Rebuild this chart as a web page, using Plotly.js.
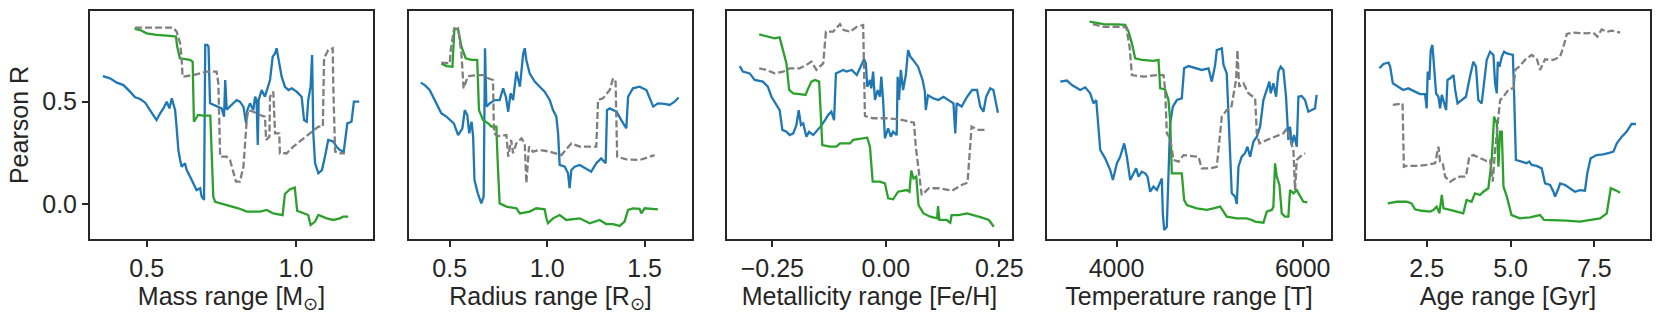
<!DOCTYPE html>
<html>
<head>
<meta charset="utf-8">
<script src="https://cdn.plot.ly/plotly-3.0.1.min.js"></script>
<style>
  html, body { margin: 0; padding: 0; background: #fff; }
  #chart { width: 1660px; height: 320px; }
</style>
</head>
<body>
<div id="chart"></div>
<script>
'use strict'

// ---- mass panel ----
var massBlueX = [0.353,0.377,0.400,0.422,0.444,0.461,0.478,0.495,0.511,0.522,0.533,0.545,0.556,0.567,0.576,0.584,0.595,0.600,0.606,0.612,0.617,0.628,0.634,0.645,0.656,0.667,0.679,0.684,0.692,0.696,0.703,0.707,0.712,0.734,0.751,0.759,0.763,0.768,0.779,0.790,0.801,0.812,0.824,0.833,0.837,0.846,0.857,0.863,0.868,0.872,0.875,0.885,0.896,0.913,0.922,0.930,0.935,0.942,0.952,0.963,0.975,0.986,1.002,1.019,1.027,1.036,1.041,1.049,1.054,1.058,1.064,1.075,1.087,1.097,1.108,1.125,1.136,1.147,1.160,1.172,1.186,1.194,1.212];
var massBlueY = [0.625,0.614,0.593,0.581,0.549,0.521,0.513,0.495,0.459,0.435,0.410,0.443,0.467,0.500,0.467,0.516,0.459,0.378,0.264,0.215,0.182,0.199,0.166,0.134,0.101,0.068,0.077,0.036,0.020,0.777,0.777,0.769,0.492,0.476,0.467,0.427,0.606,0.461,0.476,0.492,0.508,0.500,0.476,0.394,0.459,0.492,0.459,0.524,0.508,0.288,0.508,0.557,0.524,0.606,0.720,0.736,0.761,0.704,0.622,0.573,0.557,0.565,0.549,0.524,0.410,0.402,0.508,0.573,0.728,0.345,0.199,0.150,0.166,0.231,0.313,0.305,0.280,0.264,0.256,0.394,0.402,0.500,0.500];
var massGreenX = [0.459,0.478,0.500,0.533,0.578,0.598,0.602,0.611,0.645,0.654,0.658,0.672,0.689,0.713,0.723,0.729,0.768,0.807,0.835,0.880,0.902,0.924,0.955,0.963,0.980,0.996,1.004,1.024,1.041,1.049,1.064,1.075,1.103,1.125,1.147,1.158,1.175];
var massGreenY = [0.857,0.850,0.834,0.826,0.821,0.818,0.769,0.712,0.704,0.695,0.402,0.435,0.432,0.432,0.036,0.011,-0.005,-0.021,-0.037,-0.037,-0.029,-0.046,-0.054,0.049,0.072,0.080,-0.033,-0.046,-0.054,-0.103,-0.086,-0.054,-0.070,-0.078,-0.070,-0.062,-0.062];
var massGrayX = [0.461,0.511,0.589,0.600,0.612,0.617,0.620,0.656,0.701,0.734,0.740,0.746,0.768,0.779,0.790,0.799,0.812,0.824,0.835,0.840,0.857,0.879,0.896,0.900,0.911,0.913,0.924,0.930,0.944,0.946,0.969,0.991,1.019,1.047,1.075,1.090,1.094,1.108,1.123,1.125,1.131,1.147,1.164];
var massGrayY = [0.862,0.863,0.862,0.842,0.785,0.712,0.622,0.630,0.647,0.647,0.590,0.231,0.231,0.215,0.150,0.109,0.109,0.182,0.410,0.459,0.451,0.435,0.427,0.313,0.329,0.524,0.549,0.345,0.345,0.248,0.248,0.280,0.313,0.345,0.378,0.378,0.712,0.752,0.761,0.573,0.256,0.248,0.248];

// ---- radius panel ----
var radBlueX = [0.351,0.372,0.397,0.415,0.440,0.457,0.483,0.500,0.521,0.543,0.565,0.577,0.590,0.600,0.606,0.612,0.620,0.627,0.644,0.662,0.674,0.681,0.688,0.705,0.731,0.756,0.774,0.788,0.800,0.812,0.825,0.842,0.860,0.877,0.885,0.893,0.910,0.936,0.962,0.987,1.013,1.030,1.047,1.056,1.064,1.090,1.107,1.115,1.124,1.141,1.167,1.201,1.226,1.252,1.277,1.300,1.307,1.321,1.356,1.380,1.406,1.415,1.440,1.474,1.509,1.544,1.568,1.603,1.628,1.654,1.674];
var radBlueY = [0.593,0.581,0.557,0.524,0.476,0.443,0.427,0.410,0.394,0.337,0.370,0.459,0.435,0.345,0.378,0.402,0.329,0.117,0.052,0.003,0.036,0.761,0.476,0.492,0.508,0.508,0.565,0.524,0.451,0.541,0.508,0.647,0.573,0.736,0.761,0.704,0.638,0.598,0.573,0.549,0.508,0.459,0.427,0.345,0.191,0.182,0.150,0.077,0.166,0.182,0.191,0.174,0.158,0.199,0.223,0.199,0.459,0.467,0.451,0.410,0.370,0.524,0.565,0.573,0.557,0.476,0.492,0.489,0.484,0.500,0.520];
var radGreenX = [0.457,0.483,0.514,0.524,0.543,0.560,0.582,0.611,0.641,0.650,0.671,0.697,0.714,0.739,0.747,0.756,0.791,0.842,0.860,0.910,0.944,0.987,0.996,1.004,1.030,1.064,1.098,1.167,1.218,1.269,1.303,1.338,1.372,1.397,1.415,1.440,1.474,1.483,1.500,1.568];
var radGreenY = [0.687,0.674,0.671,0.858,0.853,0.769,0.712,0.704,0.704,0.459,0.410,0.394,0.378,0.378,0.182,0.003,-0.013,-0.021,-0.046,-0.037,-0.021,-0.026,-0.070,-0.094,-0.070,-0.054,-0.078,-0.070,-0.094,-0.078,-0.098,-0.098,-0.107,-0.086,-0.029,-0.021,-0.024,-0.046,-0.021,-0.026];
var radGrayX = [0.457,0.500,0.505,0.521,0.543,0.560,0.571,0.594,0.632,0.679,0.697,0.722,0.727,0.748,0.791,0.800,0.815,0.825,0.842,0.868,0.885,0.893,0.907,0.927,0.962,1.013,1.073,1.124,1.167,1.252,1.261,1.286,1.321,1.338,1.351,1.359,1.406,1.474,1.551];
var radGrayY = [0.691,0.687,0.752,0.850,0.858,0.736,0.565,0.625,0.629,0.630,0.614,0.606,0.345,0.332,0.337,0.231,0.313,0.248,0.296,0.321,0.296,0.101,0.280,0.256,0.264,0.256,0.239,0.296,0.280,0.280,0.508,0.516,0.557,0.614,0.598,0.231,0.218,0.215,0.239];

// ---- metallicity panel ----
var metBlueX = [-0.322,-0.315,-0.300,-0.289,-0.271,-0.260,-0.252,-0.241,-0.234,-0.228,-0.219,-0.212,-0.204,-0.197,-0.192,-0.187,-0.182,-0.175,-0.169,-0.160,-0.153,-0.144,-0.134,-0.127,-0.120,-0.114,-0.110,-0.101,-0.094,-0.087,-0.075,-0.064,-0.056,-0.048,-0.044,-0.041,-0.035,-0.032,-0.028,-0.024,-0.018,-0.013,-0.010,-0.006,-0.002,0.005,0.011,0.016,0.024,0.026,0.029,0.033,0.038,0.044,0.049,0.054,0.060,0.071,0.081,0.086,0.088,0.093,0.105,0.116,0.127,0.138,0.149,0.153,0.156,0.167,0.179,0.190,0.201,0.208,0.215,0.221,0.230,0.237,0.247];
var metBlueY = [0.674,0.647,0.638,0.606,0.598,0.573,0.524,0.484,0.459,0.362,0.353,0.337,0.345,0.386,0.459,0.386,0.394,0.329,0.353,0.337,0.353,0.378,0.410,0.435,0.451,0.410,0.638,0.647,0.655,0.647,0.655,0.630,0.671,0.707,0.687,0.573,0.606,0.565,0.647,0.508,0.557,0.524,0.622,0.508,0.321,0.370,0.329,0.353,0.337,0.622,0.508,0.655,0.557,0.630,0.752,0.720,0.704,0.671,0.606,0.549,0.459,0.531,0.516,0.508,0.524,0.508,0.492,0.345,0.492,0.476,0.524,0.557,0.557,0.476,0.451,0.524,0.565,0.557,0.446];
var metGreenX = [-0.279,-0.263,-0.245,-0.234,-0.226,-0.219,-0.213,-0.204,-0.190,-0.177,-0.171,-0.164,-0.156,-0.147,-0.142,-0.140,-0.123,-0.109,-0.101,-0.079,-0.072,-0.050,-0.041,-0.035,-0.029,-0.013,-0.002,0.005,0.016,0.027,0.046,0.052,0.056,0.061,0.067,0.072,0.083,0.098,0.113,0.115,0.118,0.134,0.142,0.145,0.160,0.179,0.193,0.212,0.227,0.238];
var metGreenY = [0.829,0.821,0.809,0.814,0.752,0.687,0.557,0.541,0.537,0.533,0.565,0.598,0.606,0.598,0.378,0.288,0.280,0.280,0.296,0.296,0.313,0.321,0.324,0.280,0.109,0.109,0.101,0.028,0.023,0.060,0.068,0.060,0.163,0.125,0.134,-0.005,-0.046,-0.062,-0.070,-0.010,-0.078,-0.078,-0.091,-0.054,-0.054,-0.046,-0.054,-0.067,-0.078,-0.111];
var metGrayX = [-0.279,-0.263,-0.245,-0.226,-0.212,-0.190,-0.175,-0.164,-0.153,-0.138,-0.132,-0.116,-0.101,-0.093,-0.079,-0.064,-0.050,-0.046,-0.028,0.001,0.029,0.062,0.066,0.073,0.079,0.095,0.117,0.146,0.167,0.180,0.189,0.204,0.222];
var metGrayY = [0.663,0.655,0.638,0.647,0.663,0.663,0.679,0.696,0.655,0.687,0.842,0.842,0.879,0.850,0.842,0.866,0.875,0.430,0.419,0.419,0.414,0.397,0.280,0.150,0.044,0.077,0.077,0.065,0.093,0.104,0.378,0.362,0.362];

// ---- temperature panel ----
var tempBlueX = [3395,3467,3521,3610,3664,3717,3753,3782,3825,3878,3932,3961,4004,4039,4082,4111,4147,4182,4211,4236,4272,4308,4333,4361,4397,4433,4469,4487,4497,4512,4540,4558,4576,4605,4648,4701,4726,4773,4844,4916,4988,5023,5059,5077,5131,5149,5184,5213,5238,5274,5292,5310,5345,5381,5406,5435,5471,5507,5542,5578,5614,5642,5657,5685,5714,5739,5764,5793,5821,5846,5864,5882,5907,5936,5954,5989,6025,6061,6097,6132,6150];
var tempBlueY = [0.598,0.603,0.581,0.557,0.570,0.541,0.492,0.508,0.264,0.223,0.166,0.117,0.199,0.231,0.296,0.231,0.117,0.150,0.174,0.134,0.158,0.150,0.134,0.060,0.085,0.068,0.101,0.125,-0.046,-0.127,-0.111,0.101,0.394,0.476,0.508,0.516,0.663,0.674,0.663,0.655,0.663,0.598,0.679,0.752,0.761,0.679,0.638,0.329,0.052,0.036,0.000,0.182,0.231,0.248,0.280,0.231,0.305,0.329,0.378,0.508,0.557,0.598,0.541,0.590,0.524,0.647,0.671,0.655,0.524,0.313,0.378,0.288,0.337,0.280,0.524,0.528,0.508,0.451,0.459,0.467,0.533];
var tempGreenX = [3710,3789,3861,4004,4093,4129,4165,4200,4272,4397,4451,4469,4522,4558,4576,4594,4701,4726,4755,4862,4970,5041,5113,5149,5184,5292,5399,5453,5489,5578,5614,5668,5685,5703,5721,5750,5775,5810,5846,5864,5900,5936,5971,6007,6050];
var tempGreenY = [0.891,0.886,0.879,0.878,0.875,0.842,0.785,0.712,0.704,0.699,0.704,0.565,0.560,0.508,0.410,0.150,0.150,0.020,-0.005,-0.021,-0.029,-0.021,-0.013,-0.037,-0.062,-0.070,-0.070,-0.078,-0.086,-0.091,-0.037,-0.029,-0.013,0.199,0.134,0.093,-0.046,-0.062,-0.062,0.068,0.052,0.068,0.036,0.011,0.008];
var tempGrayX = [3746,3861,4004,4104,4140,4165,4290,4433,4505,4522,4540,4576,4612,4666,4719,4880,4916,5005,5077,5131,5184,5231,5284,5299,5317,5363,5417,5489,5507,5535,5614,5703,5793,5829,5900,5918,5936,5971,6025];
var tempGrayY = [0.879,0.866,0.866,0.863,0.769,0.630,0.622,0.630,0.630,0.557,0.345,0.321,0.215,0.207,0.239,0.231,0.174,0.174,0.182,0.427,0.459,0.467,0.606,0.752,0.573,0.590,0.541,0.516,0.345,0.296,0.313,0.329,0.345,0.370,0.264,0.068,0.215,0.231,0.248];

// ---- age panel ----
var ageBlueX = [1.09,1.21,1.36,1.41,1.49,1.66,1.80,1.95,2.15,2.30,2.45,2.50,2.53,2.58,2.62,2.67,2.72,2.78,2.85,2.90,2.95,3.00,3.08,3.12,3.20,3.30,3.35,3.42,3.54,3.67,3.79,3.89,3.97,4.04,4.14,4.21,4.29,4.39,4.49,4.54,4.59,4.62,4.67,4.74,4.81,4.89,4.99,5.07,5.11,5.16,5.33,5.48,5.56,5.63,5.78,5.93,6.03,6.18,6.28,6.33,6.43,6.48,6.63,6.77,6.92,7.07,7.22,7.29,7.39,7.57,7.77,7.97,8.07,8.17,8.32,8.46,8.61,8.74];
var ageBlueY = [0.663,0.684,0.691,0.671,0.590,0.573,0.557,0.565,0.549,0.537,0.537,0.467,0.647,0.606,0.752,0.777,0.671,0.541,0.524,0.467,0.533,0.500,0.459,0.606,0.614,0.630,0.557,0.492,0.508,0.524,0.622,0.695,0.671,0.508,0.492,0.606,0.704,0.744,0.728,0.590,0.541,0.695,0.671,0.720,0.744,0.736,0.731,0.728,0.524,0.215,0.207,0.199,0.207,0.191,0.186,0.174,0.101,0.093,0.060,0.036,0.077,0.101,0.093,0.077,0.060,0.068,0.065,0.150,0.223,0.239,0.243,0.251,0.256,0.296,0.329,0.353,0.391,0.391];
var ageGreenX = [1.34,1.61,1.90,2.05,2.15,2.35,2.60,2.70,2.80,2.88,2.95,3.00,3.20,3.39,3.59,3.69,3.84,3.94,4.09,4.19,4.34,4.44,4.51,4.59,4.64,4.69,4.74,4.79,4.89,5.03,5.28,5.58,5.88,6.00,6.28,6.67,7.07,7.37,7.67,7.87,7.99,8.12,8.27];
var ageGreenY = [0.003,0.011,0.011,0.003,-0.026,-0.033,-0.037,-0.029,-0.013,-0.046,0.044,-0.021,-0.029,-0.037,-0.046,0.020,0.011,0.052,0.044,0.060,0.077,0.215,0.427,0.394,0.182,0.353,0.353,0.085,0.036,-0.054,-0.070,-0.065,-0.054,-0.078,-0.078,-0.081,-0.086,-0.078,-0.070,-0.046,0.077,0.068,0.055];
var ageGrayX = [1.49,1.71,1.78,1.82,1.90,2.20,2.50,2.75,2.85,2.90,2.98,3.05,3.20,3.35,3.49,3.67,3.77,3.89,4.14,4.29,4.39,4.47,4.54,4.61,4.69,4.79,4.94,5.09,5.14,5.28,5.43,5.63,5.78,5.88,6.03,6.28,6.48,6.58,6.68,6.87,7.27,7.47,7.59,7.72,7.87,8.02,8.27];
var ageGrayY = [0.484,0.489,0.492,0.182,0.186,0.186,0.191,0.199,0.280,0.207,0.199,0.134,0.109,0.125,0.134,0.134,0.231,0.239,0.223,0.210,0.215,0.109,0.264,0.378,0.508,0.524,0.560,0.565,0.655,0.674,0.704,0.728,0.712,0.655,0.707,0.704,0.720,0.769,0.831,0.837,0.834,0.837,0.818,0.853,0.842,0.847,0.837];

var xTitles = ['Mass range [M<sub>⊙</sub>]', 'Radius range [R<sub>⊙</sub>]', 'Metallicity range [Fe/H]', 'Temperature range [T]', 'Age range [Gyr]'];

var BLUE = '#1f77b4', GREEN = '#2ca02c', GRAY = '#7f7f7f';
var INK = '#262626';
var FS = 25;

var panels = [
    {blue: [massBlueX, massBlueY], green: [massGreenX, massGreenY], gray: [massGrayX, massGrayY],
     dom: [90, 373], range: [0.31, 1.258], ticks: [0.5, 1.0], fmt: '.1f'},
    {blue: [radBlueX, radBlueY], green: [radGreenX, radGreenY], gray: [radGrayX, radGrayY],
     dom: [409, 692], range: [0.291, 1.743], ticks: [0.5, 1.0, 1.5], fmt: '.1f'},
    {blue: [metBlueX, metBlueY], green: [metGreenX, metGreenY], gray: [metGrayX, metGrayY],
     dom: [727, 1012], range: [-0.350, 0.278], ticks: [-0.25, 0, 0.25], fmt: '.2f'},
    {blue: [tempBlueX, tempBlueY], green: [tempGreenX, tempGreenY], gray: [tempGrayX, tempGrayY],
     dom: [1047, 1331], range: [3253, 6304], ticks: [4000, 6000], fmt: 'd'},
    {blue: [ageBlueX, ageBlueY], green: [ageGreenX, ageGreenY], gray: [ageGrayX, ageGrayY],
     dom: [1366, 1650], range: [0.69, 9.16], ticks: [2.5, 5.0, 7.5], fmt: '.1f'}
];

var W = 1660, H = 320;
var yDom = [1 - 239 / H, 1 - 11 / H];
var yRange = [-0.171, 0.943];

var traces = [];
var layout = {
    width: W,
    height: H,
    margin: {l: 0, r: 0, t: 0, b: 0},
    paper_bgcolor: 'white',
    plot_bgcolor: 'white',
    showlegend: false,
    font: {family: 'Liberation Sans, Arial, sans-serif', size: FS, color: INK}
};

function line(xy, color, dash, n) {
    return {
        type: 'scatter',
        mode: 'lines',
        x: xy[0],
        y: xy[1],
        xaxis: 'x' + (n === 1 ? '' : n),
        yaxis: 'y' + (n === 1 ? '' : n),
        line: {color: color, width: 2.3, dash: dash},
        hoverinfo: 'skip'
    };
}

panels.forEach(function(p, i) {
    var n = i + 1;
    var sfx = n === 1 ? '' : n;
    traces.push(line(p.blue, BLUE, 'solid', n));
    traces.push(line(p.green, GREEN, 'solid', n));
    traces.push(line(p.gray, GRAY, '7px,3px', n));

    layout['xaxis' + sfx] = {
        domain: [p.dom[0] / W, p.dom[1] / W],
        anchor: 'y' + sfx,
        range: p.range,
        tickvals: p.ticks,
        tickformat: p.fmt,
        ticks: 'outside', ticklen: 6, tickwidth: 2, tickcolor: INK,
        showline: true, linewidth: 2, linecolor: INK, mirror: true,
        showgrid: false, zeroline: false,
        tickfont: {size: FS, color: INK},
        title: {text: xTitles[i], font: {size: FS, color: INK}, standoff: 4}
    };
    var ya = {
        domain: yDom,
        anchor: 'x' + sfx,
        range: yRange,
        showline: true, linewidth: 2, linecolor: INK, mirror: true,
        showgrid: false, zeroline: false,
        showticklabels: false,
        ticks: ''
    };
    if (n === 1) {
        ya.tickvals = [0, 0.5];
        ya.tickformat = '.1f';
        ya.ticks = 'outside';
        ya.ticklen = 6;
        ya.tickwidth = 2;
        ya.tickcolor = INK;
        ya.showticklabels = true;
        ya.tickfont = {size: FS, color: INK};
        ya.title = {text: 'Pearson R', font: {size: FS, color: INK}, standoff: 6};
    }
    layout['yaxis' + sfx] = ya;
});

Plotly.newPlot('chart', traces, layout, {displayModeBar: false, staticPlot: true});
</script>
</body>
</html>
